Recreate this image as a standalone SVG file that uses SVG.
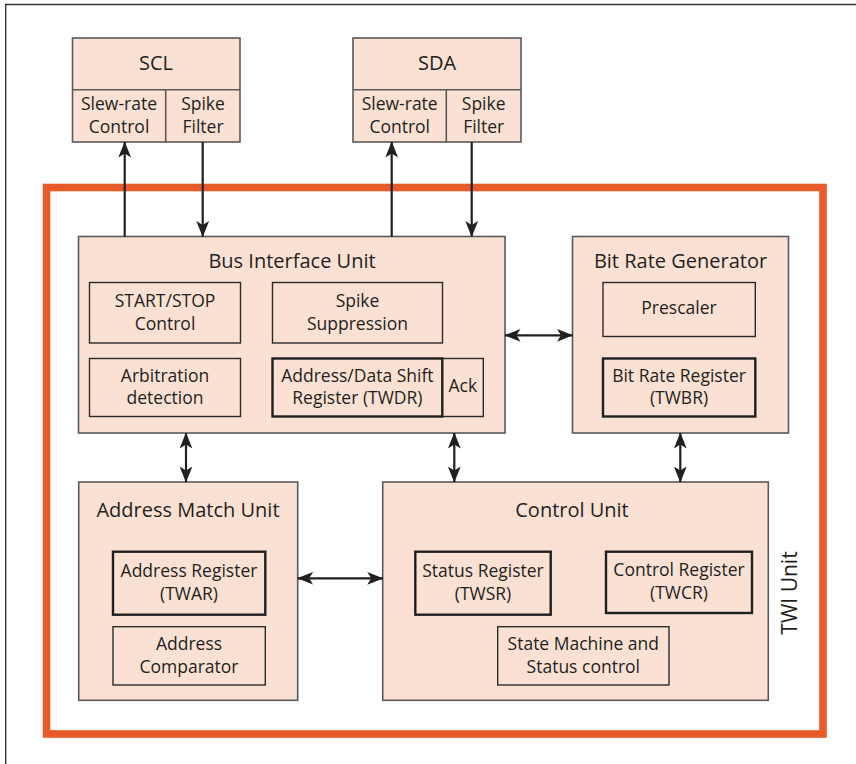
<svg xmlns="http://www.w3.org/2000/svg" width="856" height="764" viewBox="0 0 856 764">
  <style>
    text { font-family: "Open Sans", "Liberation Sans", sans-serif; fill: #231f20; text-anchor: middle; }
    .title { font-size: 20px; }
    .lbl { font-size: 17.5px; }
    .unit { fill: #fbe1d4; stroke: #58595b; stroke-width: 1.6; }
    .sub { fill: #fbe1d4; stroke: #2b2b2b; stroke-width: 1.4; }
    .reg { fill: #fbe1d4; stroke: #1f1f1f; stroke-width: 2.4; }
    .wire { fill: none; stroke: #231f20; stroke-width: 2.2; }
  </style>
  <defs>
    <marker id="head" viewBox="0 0 16 14" refX="15.5" refY="7" markerWidth="16" markerHeight="14" markerUnits="userSpaceOnUse" orient="auto-start-reverse">
      <path d="M0,0.6 L16,7 L0,13.4 L4,7 z" fill="#231f20"/>
    </marker>
  </defs>

  <rect width="856" height="764" fill="#ffffff"/>
  <!-- page frame -->
  <path d="M5.7,764 V4.5 H856" fill="none" stroke="#333333" stroke-width="1.4"/>

  <!-- TWI unit boundary -->
  <g id="twi-unit">
    <rect x="46.5" y="187.5" width="776.5" height="546.5" fill="none" stroke="#e85a27" stroke-width="7.6"/>
    <text class="title" transform="translate(797,593) rotate(-90)" style="font-size:21px">TWI Unit</text>
  </g>

  <!-- SCL pad -->
  <g id="scl">
    <rect class="unit" x="72.5" y="38" width="167.5" height="104"/>
    <line x1="72.5" y1="89.7" x2="240" y2="89.7" stroke="#58595b" stroke-width="1.6"/>
    <line x1="165.7" y1="89.7" x2="165.7" y2="142" stroke="#58595b" stroke-width="1.6"/>
    <text class="title" x="156" y="70">SCL</text>
    <text class="lbl" x="119" y="110">Slew-rate</text>
    <text class="lbl" x="119" y="133">Control</text>
    <text class="lbl" x="203" y="110">Spike</text>
    <text class="lbl" x="203" y="133">Filter</text>
  </g>

  <!-- SDA pad -->
  <g id="sda">
    <rect class="unit" x="353" y="38" width="168" height="104"/>
    <line x1="353" y1="89.7" x2="521" y2="89.7" stroke="#58595b" stroke-width="1.6"/>
    <line x1="446.3" y1="89.7" x2="446.3" y2="142" stroke="#58595b" stroke-width="1.6"/>
    <text class="title" x="437" y="70">SDA</text>
    <text class="lbl" x="399.7" y="110">Slew-rate</text>
    <text class="lbl" x="399.7" y="133">Control</text>
    <text class="lbl" x="483.7" y="110">Spike</text>
    <text class="lbl" x="483.7" y="133">Filter</text>
  </g>

  <!-- Bus Interface Unit -->
  <g id="bus-interface-unit">
    <rect class="unit" x="78.5" y="236.5" width="426.5" height="196.5"/>
    <text class="title" x="292" y="267.5">Bus Interface Unit</text>
    <rect class="sub" x="89.5" y="282.5" width="151" height="60.5"/>
    <text class="lbl" x="165" y="306.5">START/STOP</text>
    <text class="lbl" x="165" y="329.5">Control</text>
    <rect class="sub" x="272.5" y="282.5" width="170" height="60.5"/>
    <text class="lbl" x="357.5" y="306.5">Spike</text>
    <text class="lbl" x="357.5" y="329.5">Suppression</text>
    <rect class="sub" x="89.5" y="358.5" width="151" height="58"/>
    <text class="lbl" x="165" y="381.5">Arbitration</text>
    <text class="lbl" x="165" y="404">detection</text>
    <rect class="sub" x="442.3" y="358.5" width="41" height="58"/>
    <text class="lbl" x="462.8" y="392">Ack</text>
    <rect class="reg" x="272.5" y="358.5" width="169.8" height="58"/>
    <text class="lbl" x="357.4" y="381.5">Address/Data Shift</text>
    <text class="lbl" x="357.4" y="404">Register (TWDR)</text>
  </g>

  <!-- Bit Rate Generator -->
  <g id="bit-rate-generator">
    <rect class="unit" x="572.5" y="236.5" width="216" height="196.5"/>
    <text class="title" x="680.5" y="267.5">Bit Rate Generator</text>
    <rect class="sub" x="603" y="282.5" width="152.3" height="54"/>
    <text class="lbl" x="679" y="314.3">Prescaler</text>
    <rect class="reg" x="603" y="358.5" width="152.3" height="58"/>
    <text class="lbl" x="679" y="381.5">Bit Rate Register</text>
    <text class="lbl" x="679" y="404">(TWBR)</text>
  </g>

  <!-- Address Match Unit -->
  <g id="address-match-unit">
    <rect class="unit" x="78.7" y="482" width="219" height="218.3"/>
    <text class="title" x="188" y="516.7">Address Match Unit</text>
    <rect class="reg" x="113" y="551.7" width="152.3" height="63"/>
    <text class="lbl" x="189" y="577.3">Address Register</text>
    <text class="lbl" x="189" y="600">(TWAR)</text>
    <rect class="sub" x="113" y="626.7" width="152.3" height="58.3"/>
    <text class="lbl" x="189" y="650">Address</text>
    <text class="lbl" x="189" y="672.7">Comparator</text>
  </g>

  <!-- Control Unit -->
  <g id="control-unit">
    <rect class="unit" x="382.7" y="482" width="385.6" height="218.3"/>
    <text class="title" x="572" y="516.7">Control Unit</text>
    <rect class="reg" x="415.3" y="551.7" width="135.4" height="63"/>
    <text class="lbl" x="483" y="577.3">Status Register</text>
    <text class="lbl" x="483" y="600">(TWSR)</text>
    <rect class="reg" x="606" y="551.7" width="146" height="61.3"/>
    <text class="lbl" x="679" y="576">Control Register</text>
    <text class="lbl" x="679" y="598.5">(TWCR)</text>
    <rect class="sub" x="497.7" y="626.7" width="171.3" height="58.3"/>
    <text class="lbl" x="583.3" y="650">State Machine and</text>
    <text class="lbl" x="583.3" y="672.7">Status control</text>
  </g>

  <!-- connectors -->
  <g id="connectors">
    <line class="wire" x1="124.7" y1="236.5" x2="124.7" y2="142" marker-end="url(#head)"/>
    <line class="wire" x1="202.7" y1="142" x2="202.7" y2="236.5" marker-end="url(#head)"/>
    <line class="wire" x1="391.7" y1="236.5" x2="391.7" y2="142" marker-end="url(#head)"/>
    <line class="wire" x1="471.7" y1="142" x2="471.7" y2="236.5" marker-end="url(#head)"/>
    <line class="wire" x1="505" y1="335.3" x2="572.5" y2="335.3" marker-start="url(#head)" marker-end="url(#head)"/>
    <line class="wire" x1="186" y1="433" x2="186" y2="482" marker-start="url(#head)" marker-end="url(#head)"/>
    <line class="wire" x1="454.3" y1="433" x2="454.3" y2="482" marker-start="url(#head)" marker-end="url(#head)"/>
    <line class="wire" x1="680.3" y1="433" x2="680.3" y2="482" marker-start="url(#head)" marker-end="url(#head)"/>
    <line class="wire" x1="297.7" y1="578.3" x2="382.7" y2="578.3" marker-start="url(#head)" marker-end="url(#head)"/>
  </g>
</svg>
